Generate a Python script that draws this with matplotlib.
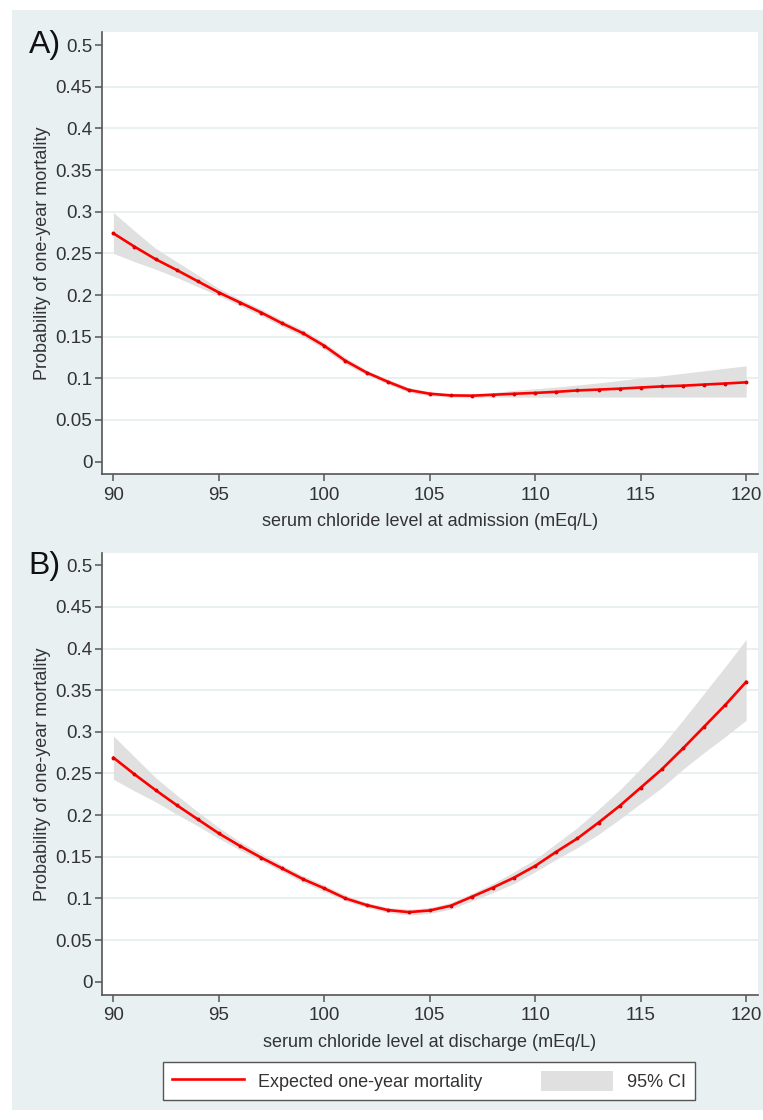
import numpy as np
import matplotlib
matplotlib.use("Agg")
import matplotlib.pyplot as plt
from matplotlib.patches import Rectangle, Patch
from matplotlib.lines import Line2D

plt.rcParams['font.family'] = ['Liberation Sans', 'DejaVu Sans']

# chloride level (mEq/L)
chloride = np.arange(90, 121)

# panel A: admission
adm_mort = [0.274, 0.258, 0.243, 0.230, 0.2165, 0.203, 0.191, 0.179, 0.166, 0.154,
            0.139, 0.121, 0.107, 0.096, 0.086, 0.0815, 0.0795, 0.0792, 0.0803, 0.0815,
            0.0825, 0.0838, 0.0855, 0.0865, 0.0876, 0.0890, 0.0903, 0.0912, 0.0925, 0.0938,
            0.0952]
adm_lo = [0.250, 0.240, 0.231, 0.221, 0.210, 0.199, 0.187, 0.175, 0.162, 0.150,
          0.135, 0.117, 0.104, 0.093, 0.083, 0.079, 0.0775, 0.0772, 0.0775, 0.0775,
          0.0775, 0.0775, 0.0775, 0.0775, 0.0775, 0.0775, 0.0775, 0.0775, 0.0775, 0.0775,
          0.0775]
adm_hi = [0.299, 0.277, 0.256, 0.240, 0.224, 0.208, 0.195, 0.183, 0.170, 0.158,
          0.143, 0.125, 0.110, 0.099, 0.089, 0.084, 0.0815, 0.0812, 0.083, 0.0855,
          0.0875, 0.0895, 0.092, 0.0945, 0.0975, 0.1005, 0.103, 0.106, 0.109, 0.112,
          0.115]

# panel B: discharge
dis_mort = [0.269, 0.249, 0.230, 0.212, 0.195, 0.178, 0.163, 0.149, 0.136, 0.123,
            0.112, 0.100, 0.092, 0.086, 0.0835, 0.0855, 0.0912, 0.102, 0.113, 0.125,
            0.139, 0.156, 0.172, 0.191, 0.211, 0.233, 0.255, 0.280, 0.306, 0.332,
            0.360]
dis_lo = [0.243, 0.229, 0.216, 0.201, 0.187, 0.172, 0.158, 0.145, 0.132, 0.119,
          0.108, 0.097, 0.089, 0.083, 0.080, 0.082, 0.087, 0.097, 0.107, 0.118,
          0.132, 0.147, 0.161, 0.177, 0.195, 0.214, 0.233, 0.255, 0.275, 0.294,
          0.314]
dis_hi = [0.295, 0.270, 0.245, 0.224, 0.204, 0.185, 0.168, 0.154, 0.140, 0.127,
          0.116, 0.104, 0.095, 0.089, 0.087, 0.089, 0.095, 0.106, 0.118, 0.132,
          0.147, 0.166, 0.185, 0.207, 0.230, 0.256, 0.283, 0.314, 0.346, 0.378,
          0.411]

yticks = [0, 0.05, 0.1, 0.15, 0.2, 0.25, 0.3, 0.35, 0.4, 0.45, 0.5]
ytick_labels = ['0', '0.05', '0.1', '0.15', '0.2', '0.25', '0.3', '0.35', '0.4', '0.45', '0.5']
xticks = [90, 95, 100, 105, 110, 115, 120]

W, H = 763, 1120
bg = '#e8f0f2'
txt = '#333333'
fig = plt.figure(figsize=(W / 100, H / 100), dpi=100)
fig.patch.set_facecolor('white')
fig.patches.append(Rectangle((12 / W, 1 - 1110 / H), (W - 12) / W, 1100 / H,
                             transform=fig.transFigure, facecolor=bg, edgecolor='none', zorder=-5))


def panel(rect, y, lo, hi, xlabel, tag, ylims):
    l, t, r, b = rect
    ax = fig.add_axes([l / W, 1 - b / H, (r - l) / W, (b - t) / H])
    ax.set_zorder(1)
    ax.set_facecolor('white')
    for g in yticks[1:-1]:
        ax.axhline(g, color=bg, lw=1.4, zorder=1)
    ax.fill_between(chloride, lo, hi, color='#e0e0e0', lw=0, zorder=2)
    ax.plot(chloride, y, color='#ff0000', lw=1.9, zorder=3)
    ax.plot(chloride, y, ls='none', marker='o', ms=1.8, color='#e00000', zorder=4)
    ax.set_xlim(89.46, 120.56)
    ax.set_ylim(*ylims)
    ax.set_yticks(yticks)
    ax.set_yticklabels(ytick_labels)
    ax.set_xticks(xticks)
    for s in ['top', 'right']:
        ax.spines[s].set_visible(False)
    for s in ['left', 'bottom']:
        ax.spines[s].set_color('#555555')
        ax.spines[s].set_linewidth(1.2)
    ax.tick_params(axis='both', colors='#555555', labelcolor=txt, labelsize=13.5,
                   length=5, width=1.1, pad=2)
    ax.tick_params(axis='x', pad=4)
    ax.set_ylabel('Probability of one-year mortality', fontsize=13, color=txt, labelpad=3)
    ax.set_xlabel(xlabel, fontsize=13, color=txt, labelpad=7)
    ax.text(-0.112, 0.97, tag, transform=ax.transAxes, fontsize=23, color='#111111',
            ha='left', va='center')
    return ax


panel((102, 32, 758, 474), adm_mort, adm_lo, adm_hi,
      'serum chloride level at admission (mEq/L)', 'A)', (-0.0148, 0.5156))
panel((102, 553, 758, 995), dis_mort, dis_lo, dis_hi,
      'serum chloride level at discharge (mEq/L)', 'B)', (-0.016, 0.5147))

handles = [Line2D([], [], color='#ff0000', lw=1.9),
           Patch(facecolor='#e0e0e0', edgecolor='none')]
leg = fig.legend(handles, ['Expected one-year mortality', '95% CI'], ncol=2,
                 loc='center', bbox_to_anchor=(429 / W, 1 - 1081 / H),
                 fontsize=13, frameon=True, fancybox=False, framealpha=1,
                 handlelength=4.0, handleheight=1.4, columnspacing=3.2,
                 handletextpad=0.8, borderpad=0.5)
leg.get_frame().set_edgecolor('#555555')
leg.get_frame().set_facecolor('white')
leg.get_frame().set_linewidth(1.0)
for t in leg.get_texts():
    t.set_color(txt)

fig.savefig('out.png', dpi=100)
